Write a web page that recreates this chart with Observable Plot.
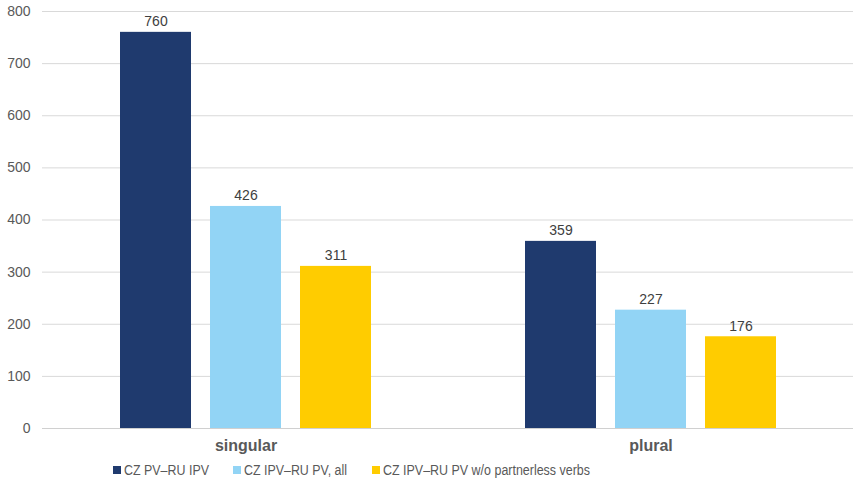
<!DOCTYPE html>
<html><head><meta charset="utf-8">
<script src="https://cdn.jsdelivr.net/npm/d3@7"></script>
<script src="https://cdn.jsdelivr.net/npm/@observablehq/plot@0.6"></script>
<style>
html,body{margin:0;padding:0;background:#fff;overflow:hidden;font-family:"Liberation Sans",Arial,sans-serif}
#chart{position:relative;width:853px;height:455px}
#chart svg{display:block;max-width:none;position:absolute;left:0;top:0}
#legend{position:relative;height:34px;font-size:15.5px;color:#595959;line-height:18px}
#legend .item{position:absolute;top:6px;display:flex;align-items:center;white-space:nowrap}
#legend .sw{width:8px;height:8px;margin-right:3px;display:inline-block}
#legend .tx{display:inline-block;transform-origin:0 50%}
</style>
</head><body><div id="chart"></div><div id="legend"></div><script>
const groups = ["singular", "plural"];
const series = ["CZ PV–RU IPV", "CZ IPV–RU PV, all", "CZ IPV–RU PV w/o partnerless verbs"];
const singularValues = [760, 426, 311];
const pluralValues = [359, 227, 176];
const colors = ["#1f3a6e", "#92d4f5", "#ffcc00"];
const yTicks = [0, 100, 200, 300, 400, 500, 600, 700, 800];

const data = [];
series.forEach((s, i) => {
  data.push({group: "singular", series: s, value: singularValues[i]});
  data.push({group: "plural", series: s, value: pluralValues[i]});
});

const common = {
  width: 853,
  height: 455,
  marginLeft: 42,
  marginRight: 0,
  marginTop: 11,
  marginBottom: 27,
  y: {domain: [0, 800], label: null}
};

// Background: grid, y axis and baseline across the full plot width
const back = Plot.plot({
  ...common,
  style: {fontFamily: "'Liberation Sans', Arial, sans-serif", background: "#fff"},
  marks: [
    Plot.ruleY(yTicks, {stroke: "#d9d9d9", strokeOpacity: 1}),
    Plot.axisY(yTicks, {tickSize: 0, tickPadding: 12, fontSize: 14, fill: "#595959", label: null}),
    Plot.ruleY([0], {stroke: "#d0d0d0"})
  ]
});

// Foreground: grouped bars with labels
const front = Plot.plot({
  ...common,
  y: {domain: [0, 800], label: null, axis: null},
  style: {fontFamily: "'Liberation Sans', Arial, sans-serif", background: "transparent"},
  fx: {domain: groups, padding: 0, label: null},
  x: {domain: series, paddingInner: 0.211, paddingOuter: 0.853, axis: null},
  color: {domain: series, range: colors},
  marks: [
    Plot.barY(data, {fx: "group", x: "series", y: "value", fill: "series"}),
    Plot.text(data, {fx: "group", x: "series", y: "value", text: d => String(d.value), dy: -6, lineAnchor: "bottom", fontSize: 14, fill: "#404040"}),
    Plot.axisFx({anchor: "bottom", tickSize: 0, tickPadding: 11, fontSize: 16, fontWeight: "bold", fill: "#595959", label: null})
  ]
});
const holder = document.getElementById("chart");
holder.appendChild(back);
holder.appendChild(front);

const legend = document.getElementById("legend");
const lefts = [113, 233, 372];
const widths = [85, 103, 207];
series.forEach((s, i) => {
  const item = document.createElement("div");
  item.className = "item";
  item.style.left = lefts[i] + "px";
  const sw = document.createElement("span");
  sw.className = "sw";
  sw.style.background = colors[i];
  const t = document.createElement("span");
  t.className = "tx";
  t.textContent = s;
  item.appendChild(sw);
  item.appendChild(t);
  legend.appendChild(item);
  const w = t.getBoundingClientRect().width;
  if (w > 0) t.style.transform = `scaleX(${widths[i] / w})`;
});
</script></body></html>
